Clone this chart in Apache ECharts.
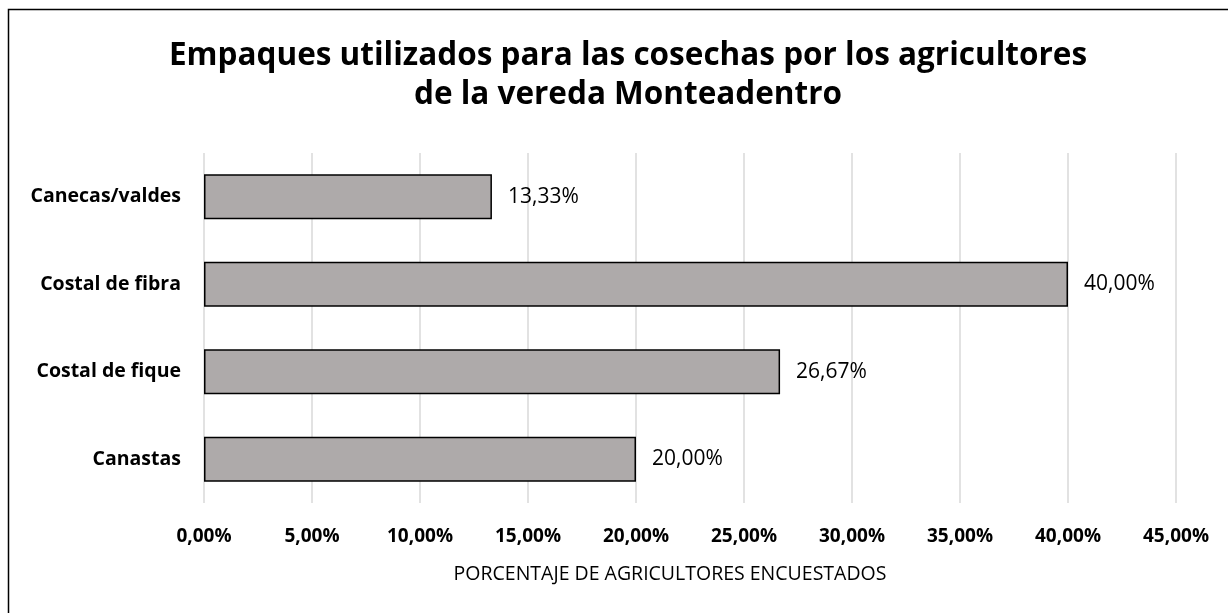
<!DOCTYPE html>
<html>
<head>
<meta charset="utf-8">
<script src="https://cdn.jsdelivr.net/npm/echarts@6/dist/echarts.min.js"></script>
<style>
  html, body { margin: 0; padding: 0; background: #fff; }
  #main { width: 1228px; height: 613px; }
</style>
</head>
<body>
<div id="main"></div>
<script type="text/javascript">
// datos del grafico (de arriba hacia abajo)
var categorias = ['Canecas/valdes', 'Costal de fibra', 'Costal de fique', 'Canastas'];
var porcentajes = [13.33, 40.00, 26.67, 20.00];
var tituloLineas = ['Empaques utilizados para las cosechas por los agricultores', 'de la vereda Monteadentro'];
var nombreEje = 'PORCENTAJE DE AGRICULTORES ENCUESTADOS';

function fmt(v) {
  return Number(v).toFixed(2).replace('.', ',') + '%';
}

var myChart = echarts.init(document.getElementById('main'));

var option = {
  backgroundColor: '#fff',
  textStyle: { fontFamily: 'Open Sans' },
  title: {
    text: tituloLineas.join('\n'),
    left: 623,
    top: 32,
    textAlign: 'center',
    textStyle: {
      fontFamily: 'Open Sans',
      fontWeight: 'bold',
      fontSize: 31.5,
      lineHeight: 39,
      color: '#000'
    }
  },
  graphic: [{
    type: 'rect',
    shape: { x: 8.5, y: 9.5, width: 1300, height: 700 },
    style: { fill: null, stroke: '#000', lineWidth: 1.5 },
    silent: true,
    z: -1
  }],
  grid: { left: 204, right: 52, top: 153, bottom: 110, containLabel: false },
  xAxis: {
    type: 'value',
    min: 0,
    max: 45,
    interval: 5,
    axisLine: { show: false },
    axisTick: { show: false },
    splitLine: { lineStyle: { color: '#D9D9D9', width: 1.5 } },
    axisLabel: {
      formatter: fmt,
      fontWeight: 'bold',
      fontSize: 19,
      color: '#000',
      margin: 24
    },
    name: nombreEje,
    nameLocation: 'middle',
    nameGap: 61,
    nameTextStyle: { fontSize: 19.5, color: '#000', padding: [0, 40, 0, 0] }
  },
  yAxis: {
    type: 'category',
    inverse: true,
    data: categorias,
    axisLine: { show: false },
    axisTick: { show: false },
    axisLabel: {
      fontWeight: 'bold',
      fontSize: 19.5,
      color: '#000',
      margin: 23
    }
  },
  series: [{
    type: 'bar',
    data: porcentajes,
    barWidth: 45,
    itemStyle: { color: '#AEAAAA', borderColor: '#000', borderWidth: 1.5 },
    label: {
      show: true,
      position: 'right',
      distance: 16,
      formatter: function (p) { return fmt(p.value); },
      fontSize: 21,
      color: '#000'
    },
    animation: false
  }],
  animation: false
};

myChart.setOption(option);
</script>
</body>
</html>
